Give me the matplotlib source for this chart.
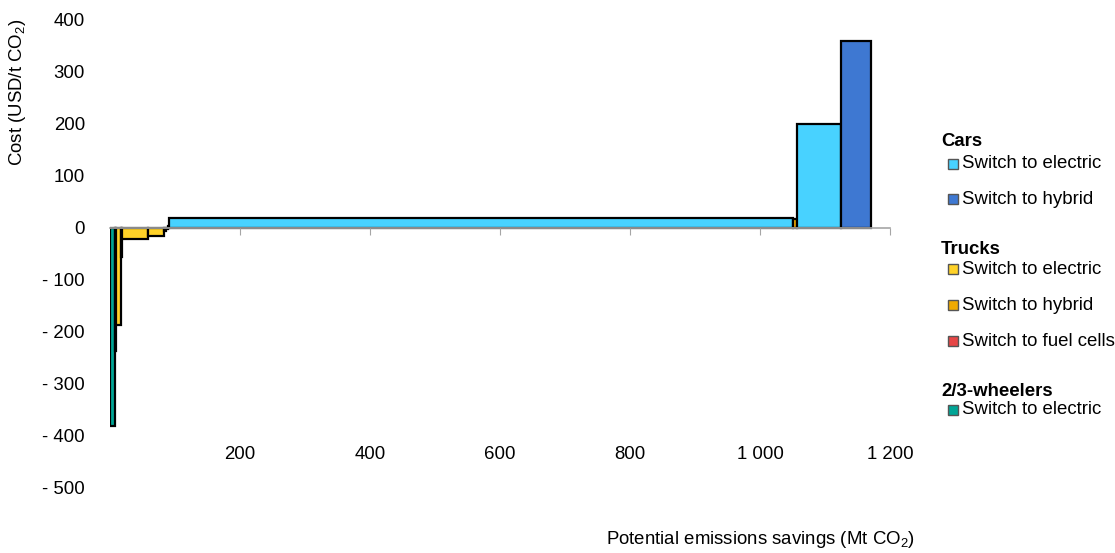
import matplotlib
matplotlib.use("Agg")
import matplotlib.pyplot as plt
from matplotlib.patches import Rectangle
from matplotlib.ticker import FuncFormatter

plt.rcParams['font.family'] = ['Liberation Sans', 'DejaVu Sans']
plt.rcParams['mathtext.fontset'] = 'custom'
plt.rcParams['mathtext.rm'] = 'Liberation Sans'
plt.rcParams['mathtext.it'] = 'Liberation Sans'

# bars in the order they appear (left to right)
measures = ["2/3-wheelers: Switch to electric", "2/3-wheelers: Switch to electric",
            "Trucks: Switch to electric", "Trucks: Switch to electric",
            "Trucks: Switch to electric", "Trucks: Switch to electric",
            "Trucks: Switch to hybrid", "Trucks: Switch to hybrid",
            "Trucks: Switch to fuel cells", "Cars: Switch to electric",
            "Trucks: Switch to hybrid", "Cars: Switch to electric",
            "Cars: Switch to hybrid"]
savings = [7, 2, 8, 1, 41, 24, 3, 3, 2, 960, 6, 68, 46]   # Mt CO2
costs = [-380, -237, -186, -55, -22, -15, -6, -2, 3, 20, 17, 200, 360]  # USD/t CO2

legend_groups = ["Cars", "Trucks", "2/3-wheelers"]
legend_items = {
    "Cars": ["Switch to electric", "Switch to hybrid"],
    "Trucks": ["Switch to electric", "Switch to hybrid", "Switch to fuel cells"],
    "2/3-wheelers": ["Switch to electric"],
}
colours = {
    "Cars: Switch to electric": "#48D2FF",
    "Cars: Switch to hybrid": "#3E78D2",
    "Trucks: Switch to electric": "#FFD228",
    "Trucks: Switch to hybrid": "#F0AA00",
    "Trucks: Switch to fuel cells": "#E64646",
    "2/3-wheelers: Switch to electric": "#00A596",
}

x_ticks = [200, 400, 600, 800, 1000, 1200]
y_ticks = [400, 300, 200, 100, 0, -100, -200, -300, -400, -500]

fig = plt.figure(figsize=(11.15, 5.53), dpi=100)
ax = fig.add_axes([110 / 1115, 65 / 553, 780 / 1115, 468 / 553])

lefts = []
pos = 0
for w in savings:
    lefts.append(pos)
    pos += w

ax.bar(lefts, costs, width=savings, align='edge',
       color=[colours[m] for m in measures], edgecolor='black', linewidth=1.6)

ax.set_xlim(0, 1200)
ax.set_ylim(-500, 400)

for s in ['top', 'right', 'left']:
    ax.spines[s].set_visible(False)
ax.spines['bottom'].set_position(('data', 0))
ax.spines['bottom'].set_color('#A6A6A6')
ax.spines['bottom'].set_linewidth(1.2)

ax.set_xticks(x_ticks)
ax.xaxis.set_major_formatter(FuncFormatter(lambda v, p: f"{int(v):,}".replace(",", " ")))
ax.tick_params(axis='x', direction='out', length=5, color='#A6A6A6', pad=152,
               labelsize=13.4)

ax.set_yticks(y_ticks)
ax.yaxis.set_major_formatter(FuncFormatter(
    lambda v, p: f"- {abs(int(v))}" if v < 0 else f"{int(v)}"))
ax.tick_params(axis='y', length=0, pad=18, labelsize=13.4)

fig.text(915 / 1115, 1 - 539 / 553, r"Potential emissions savings (Mt CO$_2$)",
         ha='right', va='center', fontsize=13.4)
fig.text(18 / 1115, 1 - 19 / 553, r"Cost (USD/t CO$_2$)", rotation=90,
         ha='center', va='top', fontsize=13.4)

# legend drawn by hand, grouped by vehicle type
header_y = {"Cars": 142, "Trucks": 249, "2/3-wheelers": 391}
item_y = {"Cars": [164, 199], "Trucks": [269, 305, 341], "2/3-wheelers": [410]}
W, H = 1115, 553
for g in legend_groups:
    fig.text(941 / W, 1 - header_y[g] / H, g, fontweight='bold',
             fontsize=13.4, ha='left', va='center')
    for lab, yy in zip(legend_items[g], item_y[g]):
        fig.patches.append(Rectangle((948 / W, 1 - (yy + 5) / H), 10 / W, 10 / H,
                                     transform=fig.transFigure,
                                     facecolor=colours[f"{g}: {lab}"],
                                     edgecolor='#555555', linewidth=1))
        fig.text(962 / W, 1 - yy / H, lab, fontsize=13.4, ha='left', va='center')

fig.savefig("out.png", dpi=100)
